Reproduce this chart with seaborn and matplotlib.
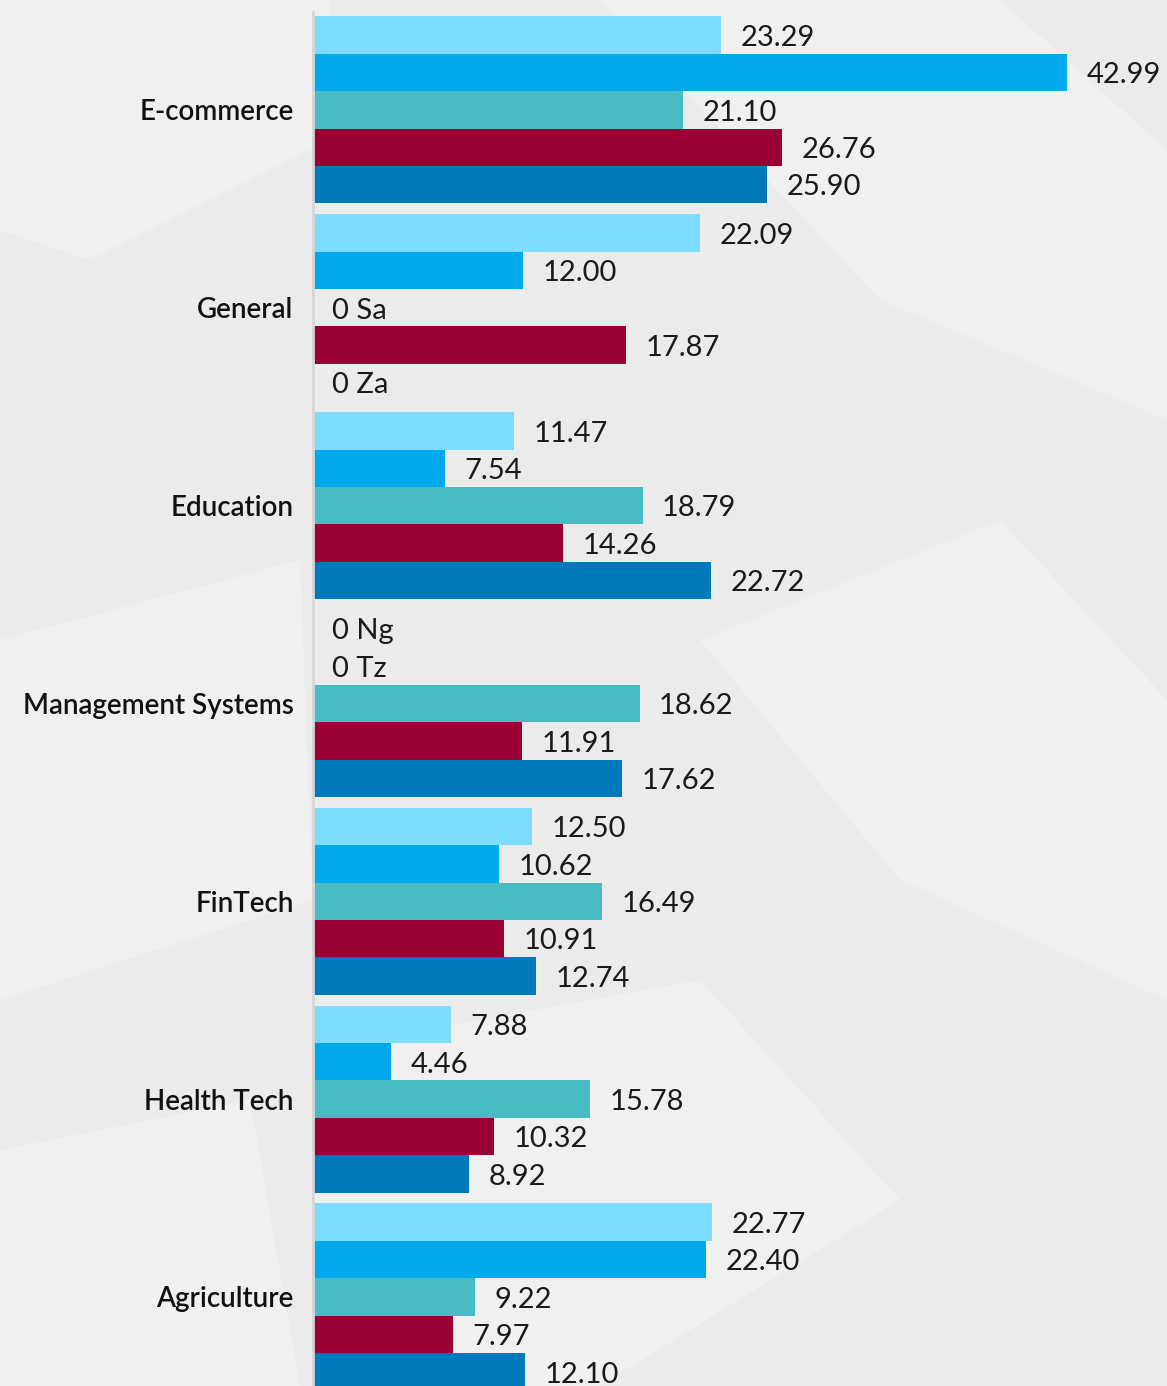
import matplotlib
matplotlib.use("Agg")
import matplotlib.pyplot as plt
from matplotlib.patches import Polygon
import seaborn as sns
import pandas as pd

categories = ["E-commerce", "General", "Education", "Management Systems",
              "FinTech", "Health Tech", "Agriculture"]
series = ["Ng", "Tz", "Sa", "Ke", "Za"]
colors = ["#7edcff", "#00a9ec", "#47bcc5", "#9a0034", "#0079bb"]

ng = [23.29, 22.09, 11.47, 0.00, 12.50, 7.88, 22.77]
tz = [42.99, 12.00, 7.54, 0.00, 10.62, 4.46, 22.40]
sa = [21.10, 0.00, 18.79, 18.62, 16.49, 15.78, 9.22]
ke = [26.76, 17.87, 14.26, 11.91, 10.91, 10.32, 7.97]
za = [25.90, 0.00, 22.72, 17.62, 12.74, 8.92, 12.10]

rows = []
for name, vals in zip(series, [ng, tz, sa, ke, za]):
    for cat, v in zip(categories, vals):
        rows.append({"category": cat, "series": name, "value": v})
df = pd.DataFrame(rows)

sns.set_style("white")
plt.rcParams['font.family'] = ['Lato', 'DejaVu Sans']

W, H = 1167, 1386
fig = plt.figure(figsize=(W / 100, H / 100), dpi=100, facecolor="#ebebeb")

# faint geometric background shapes
bg = fig.add_axes([0, 0, 1, 1], zorder=-10)
bg.set_xlim(0, W)
bg.set_ylim(H, 0)
bg.axis("off")
shapes = [
    [(0, 0), (330, 0), (330, 140), (90, 260), (0, 230)],
    [(600, 0), (1000, 0), (1167, 150), (1167, 420), (880, 300)],
    [(0, 640), (300, 560), (313, 900), (0, 1000)],
    [(700, 640), (1000, 520), (1167, 700), (1167, 1000), (900, 880)],
    [(313, 1050), (700, 980), (900, 1200), (600, 1386), (313, 1386)],
    [(0, 1150), (250, 1100), (300, 1386), (0, 1386)],
]
for pts in shapes:
    bg.add_patch(Polygon(pts, closed=True, facecolor="#f0f0f0", edgecolor="none"))

ax = fig.add_axes([313 / W, 0, (W - 313) / W, 1374 / H])
ax.patch.set_alpha(0)

sns.barplot(data=df, y="category", x="value", hue="series", order=categories,
            hue_order=series, palette=colors, saturation=1, width=0.945,
            orient="h", errorbar=None, legend=False, linewidth=0, ax=ax)

for cont, name in zip(ax.containers, series):
    vals = [b.get_width() for b in cont]
    labels = ["%.2f" % v if v > 0 else "0 " + name for v in vals]
    texts = ax.bar_label(cont, labels=labels, padding=14, fontsize=21, color="#1a1a1a")
    # nudge labels down a little (offset points)
    for t in texts:
        t.set_y(-2)

ax.set_xlim(0, 48.7)
ax.set_ylim(6.45, -0.495)
ax.set_xlabel("")
ax.set_ylabel("")
ax.set_xticks([])
ax.tick_params(axis="y", length=0, pad=14, labelsize=20)
for lab in ax.get_yticklabels():
    lab.set_fontweight("semibold")
    lab.set_color("#111111")
for s in ["top", "right", "bottom"]:
    ax.spines[s].set_visible(False)
ax.spines["left"].set_color("#d6d6d6")
ax.spines["left"].set_linewidth(2)

fig.savefig("out.png", dpi=100, facecolor=fig.get_facecolor())
